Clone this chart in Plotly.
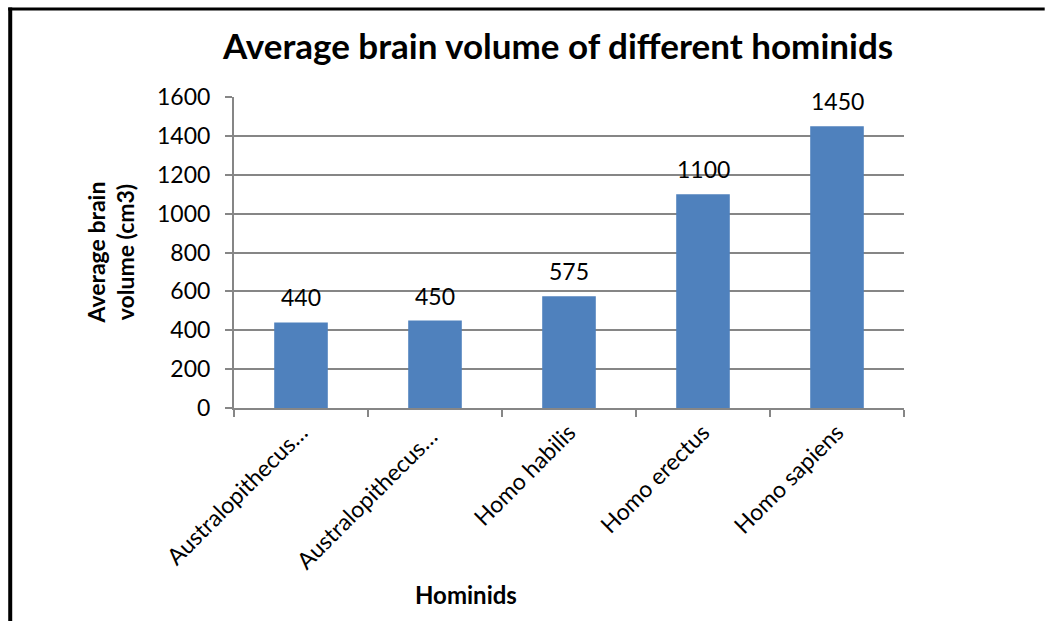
import plotly.graph_objects as go

categories = ["Australopithecus…", "Australopithecus… ", "Homo habilis", "Homo erectus", "Homo sapiens"]
volumes = [440, 450, 575, 1100, 1450]
y_ticks = [0, 200, 400, 600, 800, 1000, 1200, 1400, 1600]

FONT = "Lato, 'Open Sans', sans-serif"
GRAY = "#868686"

fig = go.Figure()
fig.add_trace(go.Bar(
    x=categories, y=volumes,
    marker=dict(color="#4F81BD", line=dict(width=0)),
    cliponaxis=False,
))

annotations = [
    dict(x=c, y=v, xref="x", yref="y", text=str(v), showarrow=False,
         yanchor="bottom", yshift=9, font=dict(size=23, family=FONT, color="black"))
    for c, v in zip(categories, volumes)
]
annotations.append(dict(
    x=-0.185, y=0.5, xref="paper", yref="paper", text="<b>Average brain<br>volume (cm3)</b>",
    textangle=-90, showarrow=False, xanchor="center", yanchor="middle",
    font=dict(size=23, family=FONT, color="black")))
annotations.append(dict(
    x=0.347, y=-0.601, xref="paper", yref="paper", text="<b>Hominids</b>",
    showarrow=False, xanchor="center", yanchor="middle",
    font=dict(size=24, family=FONT, color="black")))

fig.update_layout(
    width=1048, height=621,
    margin=dict(l=234, r=144, t=97, b=213),
    paper_bgcolor="white", plot_bgcolor="white",
    bargap=0.6,
    showlegend=False,
    font=dict(family=FONT, color="black"),
    title=dict(text="<b>Average brain volume of different hominids</b>",
               x=0.5325, xanchor="center", y=0.924, yanchor="middle",
               font=dict(size=35, family=FONT, color="black")),
    xaxis=dict(
        type="category", tickson="boundaries", ticks="outside", ticklen=7,
        tickcolor=GRAY, tickwidth=2, showline=True, linecolor=GRAY, linewidth=2,
        tickangle=-45, tickfont=dict(size=23, family=FONT, color="black"),
        showgrid=False,
    ),
    yaxis=dict(
        range=[0, 1600], tickvals=y_ticks, ticks="outside", ticklen=7,
        tickcolor=GRAY, tickwidth=2, showline=True, linecolor=GRAY, linewidth=2,
        showgrid=True, gridcolor=GRAY, gridwidth=1.5, zeroline=False,
        tickfont=dict(size=23, family=FONT, color="black"),
        ticklabelstandoff=10,
    ),
    annotations=annotations,
    shapes=[
        dict(type="line", xref="paper", yref="paper", x0=-0.334, x1=-0.334, y0=1.288, y1=-0.7,
             line=dict(color="black", width=4)),
        dict(type="line", xref="paper", yref="paper", x0=-0.337, x1=1.21, y0=1.283, y1=1.283,
             line=dict(color="black", width=3)),
    ],
)

fig.write_html("out.html")
